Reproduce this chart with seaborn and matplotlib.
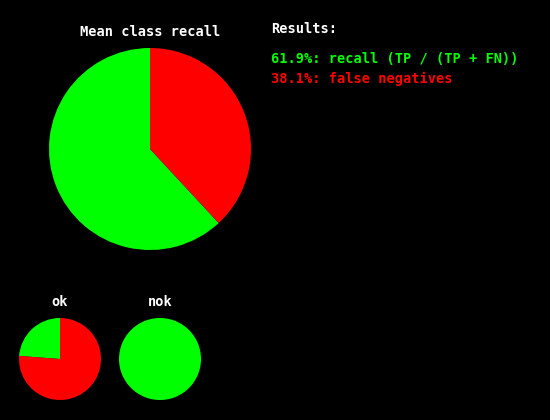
import matplotlib.pyplot as plt
import seaborn as sns

plt.switch_backend('Agg')

# data
overall_labels = ['recall (TP / (TP + FN))', 'false negatives']
overall_values = [61.9, 38.1]
class_names = ['ok', 'nok']
class_recall = [23.8, 100.0]
colors = ['#00ff00', '#ff0000']

sns.set_style('dark', {'axes.facecolor': 'black', 'figure.facecolor': 'black'})
plt.rcParams['font.family'] = ['DejaVu Sans Mono']
plt.rcParams['font.weight'] = 'bold'

W, H = 550, 420
FS = 9.8
fig = plt.figure(figsize=(W / 100, H / 100), dpi=100)
fig.patch.set_facecolor('black')


def px_axes(cx, cy, r):
    return fig.add_axes([(cx - r) / W, (H - cy - r) / H, 2 * r / W, 2 * r / H])


def draw_pie(ax, vals):
    ax.pie(vals, colors=colors, startangle=90, counterclock=True,
           wedgeprops={'linewidth': 0})
    ax.set_xlim(-1, 1)
    ax.set_ylim(-1, 1)
    ax.set_facecolor('black')


# big pie
ax = px_axes(150, 149, 101)
draw_pie(ax, overall_values)
fig.text(150 / W, 1 - 32 / H, 'Mean class recall', color='white', fontsize=FS,
         fontweight='bold', ha='center', va='center')

# per-class pies
for i, (name, rec) in enumerate(zip(class_names, class_recall)):
    cx = 60 + i * 100
    ax = px_axes(cx, 359, 41)
    draw_pie(ax, [rec, 100 - rec])
    fig.text(cx / W, 1 - 302 / H, name, color='white', fontsize=FS,
             fontweight='bold', ha='center', va='center')

# results text
fig.text(271 / W, 1 - 29 / H, 'Results:', color='white', fontsize=FS,
         fontweight='bold', ha='left', va='center')
for j, (lab, val) in enumerate(zip(overall_labels, overall_values)):
    fig.text(271 / W, 1 - (59 + j * 19.5) / H, f'{val:.1f}%: {lab}', color=colors[j],
             fontsize=FS, fontweight='bold', ha='left', va='center')

fig.savefig('out.png', dpi=100, facecolor='black')
